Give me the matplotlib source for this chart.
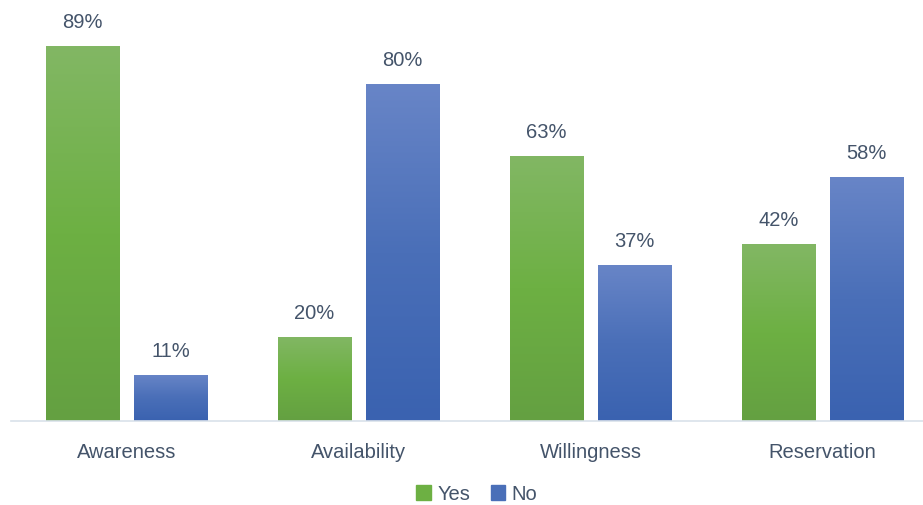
import numpy as np
import matplotlib
matplotlib.use("Agg")
import matplotlib.pyplot as plt
from matplotlib.colors import LinearSegmentedColormap
from matplotlib.patches import Patch

categories = ["Awareness", "Availability", "Willingness", "Reservation"]
yes_values = [89, 20, 63, 42]
no_values = [11, 80, 37, 58]

TEXT = "#44546a"
GREEN = ["#64a041", "#6db043", "#82b764"]   # bottom -> top
BLUE = ["#3a62b0", "#4a6fb8", "#6885c7"]

plt.rcParams["font.family"] = ["Liberation Sans", "DejaVu Sans"]

fig = plt.figure(figsize=(9.23, 5.05), dpi=100)
ax = fig.add_axes([10.5 / 923, 84 / 505, 912.5 / 923, 421 / 505])

x = np.arange(len(categories))
width = 0.315
offset = 0.19


def gradient_bars(bars, colors):
    cmap = LinearSegmentedColormap.from_list("g", colors)
    grad = np.linspace(0, 1, 256).reshape(-1, 1)
    for b in bars:
        x0, y0 = b.get_x(), b.get_y()
        w, h = b.get_width(), b.get_height()
        im = ax.imshow(grad, cmap=cmap, origin="lower", aspect="auto",
                       extent=(x0, x0 + w, y0, y0 + h), zorder=2)
        im.set_clip_path(b)


b_yes = ax.bar(x - offset, yes_values, width, color=GREEN[1], zorder=1)
b_no = ax.bar(x + offset, no_values, width, color=BLUE[1], zorder=1)
gradient_bars(b_yes, GREEN)
gradient_bars(b_no, BLUE)

for bars, vals in ((b_yes, yes_values), (b_no, no_values)):
    for b, v in zip(bars, vals):
        ax.annotate(f"{v}%", (b.get_x() + b.get_width() / 2, v),
                    xytext=(0, 17), textcoords="offset points",
                    ha="center", va="center", fontsize=14.5, color=TEXT)

ax.set_xlim(-0.5, -0.5 + 912.5 / 232)
ax.set_ylim(0, 100)
ax.set_xticks(x)
ax.set_xticklabels(categories, fontsize=14.5, color=TEXT)
ax.tick_params(axis="x", length=0, pad=16)
ax.set_yticks([])
for s in ("top", "right", "left"):
    ax.spines[s].set_visible(False)
ax.spines["bottom"].set_color("#d9e1ea")
ax.spines["bottom"].set_linewidth(1.2)
ax.set_facecolor("none")

handles = [Patch(color="#6db043", label="Yes"), Patch(color="#4a6fb8", label="No")]
fig.legend(handles=handles, loc="center", bbox_to_anchor=(477 / 923, 1 - 494 / 505),
           ncol=2, frameon=False, fontsize=14.5, handlelength=0.7, handleheight=0.7,
           handletextpad=0.35, columnspacing=1.0, labelcolor=TEXT)

fig.savefig("out.png", dpi=100)
